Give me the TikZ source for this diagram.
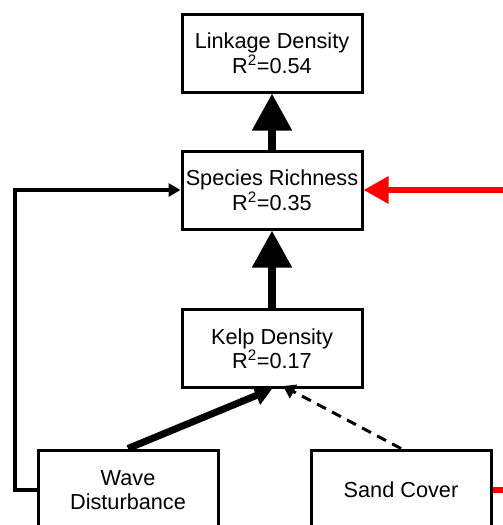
\documentclass[tikz,border=0pt]{standalone}
\usepackage{fontspec}
\setmainfont{Liberation Sans}
\usetikzlibrary{arrows.meta}
\begin{document}
\begin{tikzpicture}[x=1pt,y=-1pt,
  box/.style={draw=black,line width=3pt,fill=white,minimum width=180pt,minimum height=78pt,
    inner sep=0pt,align=center,font=\fontsize{21.7}{24.5}\selectfont},
  bigarrow/.style={line width=8pt,-{Triangle[length=37pt,width=38pt]}},
  redarrow/.style={draw=red,line width=6pt,-{Triangle[length=25pt,width=26pt]}},
  medarrow/.style={line width=7pt,-{Triangle[length=17pt,width=19pt]}},
  dasharrow/.style={line width=3pt,dash pattern=on 10pt off 7pt,-{Triangle[length=12pt,width=15pt]}},
  looparrow/.style={line width=4pt,-{Triangle[length=12pt,width=13pt]}}]
\useasboundingbox (0,0) rectangle (503,525);
\node[box] (link) at (272,53) {Linkage Density\\R\textsuperscript{2}=0.54};
\node[box] (spec) at (272,190) {Species Richness\\R\textsuperscript{2}=0.35};
\node[box] (kelp) at (272,348.5) {Kelp Density\\R\textsuperscript{2}=0.17};
\node[box,minimum height=80pt] (wave) at (128,490) {Wave\\Disturbance};
\node[box,minimum height=80pt] (sand) at (401,490) {Sand Cover};
\coordinate (redin) at (503,190);
\coordinate (redout) at (503,490);
\draw[bigarrow] (spec.north) -- (link.south);
\draw[bigarrow] (kelp.north) -- (spec.south);
\draw[redarrow] (redin) -- (spec.east);
\draw[draw=red,line width=6pt] (sand.east) -- (redout);
\draw[medarrow] (wave.north) -- (kelp.south);
\draw[dasharrow] (sand.north) -- ([xshift=11pt,yshift=3pt]kelp.south);
\draw[looparrow] (wave.west) -- ++(-22,0) |- (spec.west);
\end{tikzpicture}
\end{document}
